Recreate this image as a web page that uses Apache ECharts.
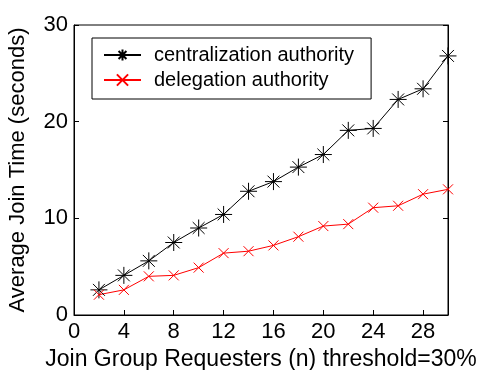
<!DOCTYPE html>
<html>
<head>
<meta charset="utf-8">
<script src="https://cdn.jsdelivr.net/npm/echarts@6/dist/echarts.min.js"></script>
<style>
  html, body { margin: 0; padding: 0; background: #fff; }
  #chart { width: 478px; height: 370px; }
</style>
</head>
<body>
<div id="chart"></div>
<script>
// requesters (n)
const requesters = [2, 4, 6, 8, 10, 12, 14, 16, 18, 20, 22, 24, 26, 28, 30];
// join time, seconds
const centralization = [2.6, 4.1, 5.6, 7.5, 9.0, 10.4, 12.8, 13.8, 15.3, 16.6, 19.1, 19.3, 22.3, 23.4, 26.8];
const delegation = [2.1, 2.6, 4.0, 4.1, 4.9, 6.4, 6.6, 7.2, 8.1, 9.2, 9.4, 11.1, 11.3, 12.5, 13.0];

const FONT = "'Liberation Sans', Arial, sans-serif";

// asterisk and cross markers, stroked
const starPath = "path://M0,-10L0,10M-10,0L10,0M-7,-7L7,7M-7,7L7,-7";
const crossPath = "path://M-10,-10L10,10M-10,10L10,-10";

const pairs = (ys) => requesters.map((x, i) => [x, ys[i]]);

const myChart = echarts.init(document.getElementById("chart"));
const option = {
  backgroundColor: "#fff",
  animation: false,
  grid: {
    left: 74, right: 30, top: 25, bottom: 55,
    outerBoundsMode: "none",
    show: true, borderColor: "#000", borderWidth: 1,
  },
  legend: {
    orient: "vertical",
    left: 92, top: 38,
    padding: [7, 17, 9, 11],
    itemWidth: 37, itemHeight: 14, itemGap: 5,
    borderColor: "#000", borderWidth: 1, borderRadius: 0,
    backgroundColor: "#fff",
    textStyle: { fontFamily: FONT, fontSize: 20, color: "#000", padding: [0, 0, 0, 8] },
    data: ["centralization authority", "delegation authority"],
  },
  xAxis: {
    type: "value",
    min: 0, max: 30, interval: 4,
    name: "Join Group Requesters (n) threshold=30%",
    nameLocation: "middle", nameGap: 22,
    nameTextStyle: { fontFamily: FONT, fontSize: 23, color: "#000", verticalAlign: "top" },
    axisLine: { lineStyle: { color: "#000" } },
    axisTick: { inside: true, length: 5, lineStyle: { color: "#000" } },
    axisLabel: { fontFamily: FONT, fontSize: 22, color: "#000", margin: 6, showMaxLabel: false },
    splitLine: { show: false },
  },
  yAxis: [
    {
      type: "value",
      min: 0, max: 30, interval: 10,
      name: "Average Join Time (seconds)",
      nameLocation: "middle", nameGap: 45,
      nameTextStyle: { fontFamily: FONT, fontSize: 22, color: "#000" },
      axisLine: { lineStyle: { color: "#000" } },
      axisTick: { inside: true, length: 5, lineStyle: { color: "#000" } },
      axisLabel: { fontFamily: FONT, fontSize: 22, color: "#000", margin: 6 },
      splitLine: { show: false },
    },
    {
      type: "value",
      position: "right",
      min: 0, max: 30, interval: 10,
      axisLine: { show: true, lineStyle: { color: "#000" } },
      axisTick: { show: true, inside: true, length: 5, lineStyle: { color: "#000" } },
      axisLabel: { show: false },
      splitLine: { show: false },
    },
  ],
  series: [
    {
      name: "centralization authority",
      type: "line",
      data: pairs(centralization),
      symbol: starPath,
      symbolSize: 17,
      lineStyle: { color: "#000", width: 1 },
      itemStyle: { color: "none", borderColor: "#000", borderWidth: 1 },
    },
    {
      name: "delegation authority",
      type: "line",
      data: pairs(delegation),
      symbol: crossPath,
      symbolSize: 10,
      lineStyle: { color: "#ff0000", width: 1 },
      itemStyle: { color: "none", borderColor: "#ff0000", borderWidth: 1 },
    },
  ],
};
myChart.setOption(option);
</script>
</body>
</html>
